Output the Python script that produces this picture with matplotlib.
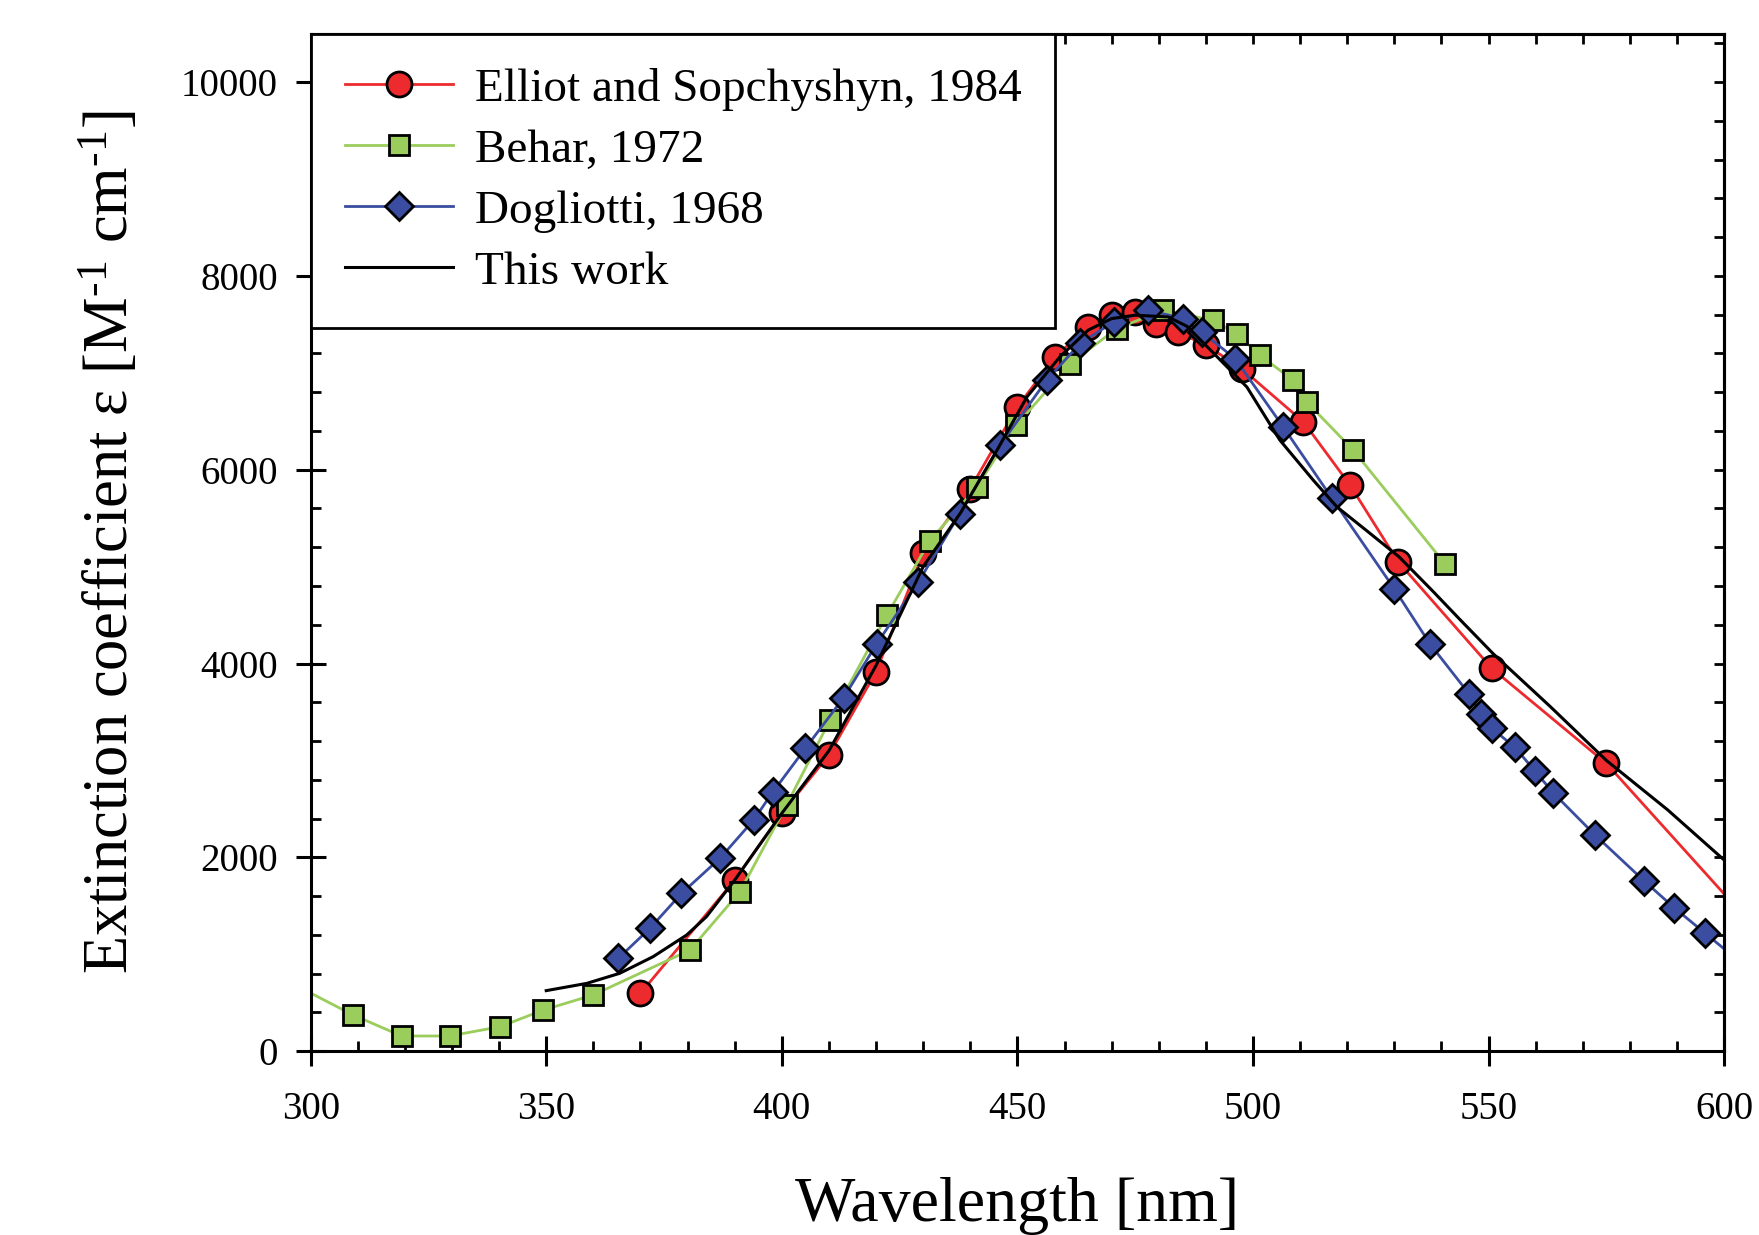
import numpy as np
import matplotlib.pyplot as plt
from matplotlib.ticker import MultipleLocator

plt.rcParams['font.family'] = ['Liberation Serif', 'DejaVu Serif']
plt.rcParams['mathtext.fontset'] = 'custom'
plt.rcParams['mathtext.rm'] = 'Liberation Serif'
plt.rcParams['mathtext.it'] = 'Liberation Serif:italic'

# --- data ---
# Elliot and Sopchyshyn, 1984 (last point lies past 600 nm, only its line shows)
elliot_nm = [370, 390, 400, 410, 420, 430, 440, 450, 458, 465, 470, 475, 479.5,
             484, 490, 497.6, 510.7, 520.6, 530.8, 550.7, 575, 610]
elliot_eps = [596, 1765, 2454, 3056, 3914, 5140, 5806, 6649, 7164, 7474, 7595,
              7628, 7508, 7422, 7286, 7044, 6494, 5841, 5050, 3949, 2969, 1083]

# Behar, 1972 (first point lies before 300 nm)
behar_nm = [290, 309, 319.3, 329.5, 340.2, 349.4, 360, 380.5, 391.1, 401, 410.2,
            422.3, 431.4, 441.4, 449.8, 461.2, 471.1, 481, 491.6, 496.5, 501.5,
            508.5, 511.4, 521.3, 540.7]
behar_eps = [850, 373, 156, 156, 252, 424, 580, 1043, 1644, 2539, 3415, 4500,
             5266, 5823, 6459, 7096, 7457, 7646, 7541, 7404, 7181, 6924, 6700,
             6201, 5032]

# Dogliotti, 1968 (last point lies past 600 nm)
dog_nm = [365.3, 372, 378.7, 386.9, 394, 398.1, 405, 413.1, 420.1, 429, 437.8,
          446.3, 456.2, 463.3, 470.4, 477.8, 485.2, 489.1, 496.2, 506.4, 516.7,
          530, 537.6, 545.9, 548.3, 550.7, 555.6, 559.8, 563.7, 572.6, 583,
          589.4, 596, 610]
dog_eps = [957, 1267, 1627, 1991, 2384, 2674, 3125, 3646, 4200, 4844, 5548,
           6253, 6924, 7303, 7525, 7646, 7560, 7422, 7147, 6443, 5710, 4770,
           4200, 3684, 3484, 3331, 3134, 2893, 2666, 2230, 1757, 1479, 1215, 655]

# This work
this_nm = [350, 358.6, 365.6, 372.7, 379.8, 384, 387, 390, 400, 410, 420, 430,
           438, 446, 452, 459, 465, 470, 475, 482, 486, 491, 498.7, 505.7,
           512.8, 517.8, 524, 531, 538.3, 544, 551, 563, 575, 588, 600]
this_eps = [624, 699, 803, 975, 1198, 1387, 1576, 1765, 2454, 3100, 3980, 5000,
            5560, 6230, 6750, 7164, 7440, 7560, 7595, 7577, 7480, 7234, 6854,
            6306, 5892, 5617, 5376, 5101, 4740, 4450, 4100, 3560, 3000, 2490,
            1972]

red = '#ED2A2E'
green = '#9ACD5B'
blue = '#3A4DA0'

fig = plt.figure(figsize=(17.59, 12.35), dpi=100)
ax = fig.add_axes([0.1766, 0.1489, 0.8036, 0.8238])

ax.plot(elliot_nm, elliot_eps, color=red, lw=2, marker='o', ms=18,
        mfc=red, mec='black', mew=2, label='Elliot and Sopchyshyn, 1984')
ax.plot(behar_nm, behar_eps, color=green, lw=2, marker='s', ms=15,
        mfc=green, mec='black', mew=2, label='Behar, 1972')
ax.plot(dog_nm, dog_eps, color=blue, lw=2, marker='D', ms=14,
        mfc=blue, mec='black', mew=2, label='Dogliotti, 1968')
ax.plot(this_nm, this_eps, color='black', lw=2.2, label='This work')

ax.set_xlim(300, 600)
ax.set_ylim(0, 10500)
ax.xaxis.set_major_locator(MultipleLocator(50))
ax.xaxis.set_minor_locator(MultipleLocator(10))
ax.set_yticks(np.arange(0, 10001, 2000))
ax.yaxis.set_minor_locator(MultipleLocator(400))

for s in ax.spines.values():
    s.set_linewidth(2.2)
ax.tick_params(which='major', direction='inout', length=21, width=2.2,
               labelsize=28)
ax.tick_params(axis='x', which='major', pad=18)
ax.tick_params(axis='y', which='major', pad=13)
ax.tick_params(which='minor', direction='in', length=7, width=2)

# ticks pointing inwards on top and right
top = ax.secondary_xaxis('top')
top.xaxis.set_major_locator(MultipleLocator(50))
top.xaxis.set_minor_locator(MultipleLocator(10))
top.tick_params(which='both', direction='in', length=7, width=2, labeltop=False)
right = ax.secondary_yaxis('right')
right.set_yticks(np.arange(0, 10001, 2000))
right.yaxis.set_minor_locator(MultipleLocator(400))
right.tick_params(which='both', direction='in', length=7, width=2, labelright=False)
for s in list(top.spines.values()) + list(right.spines.values()):
    s.set_linewidth(2.2)

ax.set_xlabel('Wavelength [nm]', fontsize=46)
ax.set_ylabel('Extinction coefficient ε [M$^{\u2010 1}$ cm$^{\u2010 1}$]', fontsize=45)
ax.xaxis.set_label_coords(0.4997, -0.124)
ax.yaxis.set_label_coords(-0.1196, 0.5)

leg = ax.legend(loc='upper left', bbox_to_anchor=(0, 1), borderaxespad=0,
                fontsize=34, numpoints=1, handlelength=2.3, handletextpad=0.45,
                borderpad=0.72, labelspacing=0.38, fancybox=False, framealpha=1)
leg.get_frame().set_edgecolor('black')
leg.get_frame().set_linewidth(2)

plt.savefig('out.png', dpi=100)
